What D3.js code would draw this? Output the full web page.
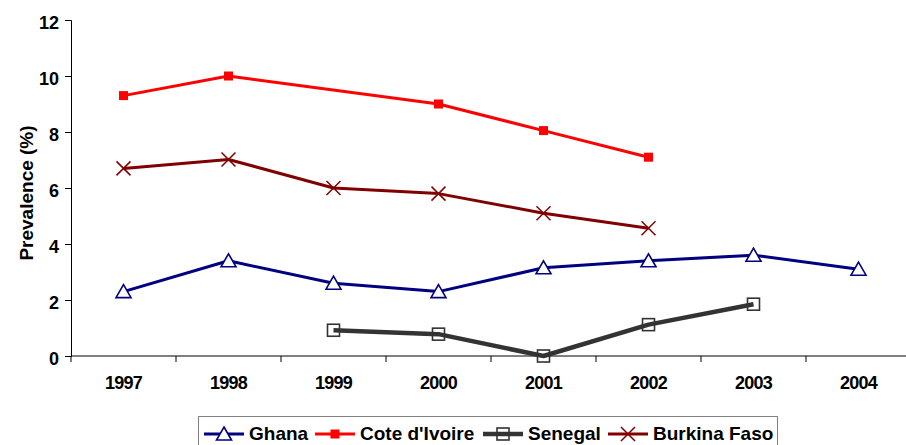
<!DOCTYPE html>
<html>
<head>
<meta charset="utf-8">
<script src="https://cdn.jsdelivr.net/npm/d3@7"></script>
<style>
  html, body { margin: 0; padding: 0; background: #fff; }
  svg { display: block; font-family: "Liberation Sans", Arial, sans-serif; }
</style>
</head>
<body>
<svg id="chart" width="906" height="445"></svg>
<script>
// Years on the category axis
const years = ["1997", "1998", "1999", "2000", "2001", "2002", "2003", "2004"];
const yTicks = [0, 2, 4, 6, 8, 10, 12];

// Prevalence (%) per country; null = no survey that year
const ghana        = [2.3, 3.4, 2.6, 2.3, 3.15, 3.4, 3.6, 3.1];
const coteDIvoire  = [9.3, 10.0, null, 9.0, 8.05, 7.1, null, null];
const senegal      = [null, null, 0.92, 0.78, 0.0, 1.12, 1.85, null];
const burkinaFaso  = [6.7, 7.02, 6.0, 5.8, 5.1, 4.56, null, null];

const series = [
  { name: "Ghana",         values: ghana,       color: "#000080", width: 3,   marker: "triangle" },
  { name: "Cote d'Ivoire", values: coteDIvoire, color: "#FF0000", width: 3,   marker: "square" },
  { name: "Senegal",       values: senegal,     color: "#333333", width: 4.5, marker: "openSquare" },
  { name: "Burkina Faso",  values: burkinaFaso, color: "#800000", width: 3,   marker: "cross" }
];

const svg = d3.select("#chart");
const margin = { left: 71, top: 20, right: 911, bottom: 356 };

const x = d3.scaleBand().domain(years).range([margin.left, margin.right]);
const y = d3.scaleLinear().domain([0, 12]).range([margin.bottom, margin.top]);
const cx = d => x(d) + x.bandwidth() / 2;

// Axes
const yAxis = svg.append("g")
  .attr("transform", `translate(${margin.left},0)`)
  .call(d3.axisLeft(y).tickValues(yTicks).tickSize(6).tickPadding(6));
yAxis.select(".domain").attr("stroke", "#000").attr("stroke-width", 1);
yAxis.selectAll(".tick line").attr("stroke", "#000");
yAxis.selectAll("text").attr("font-size", 18).attr("font-weight", "bold").attr("fill", "#000")
  .attr("font-family", "Liberation Sans, Arial, sans-serif").attr("dy", "0.48em");

const boundaries = years.map(d => x(d)).concat([margin.right]);
const xAxis = svg.append("g").attr("transform", `translate(0,${margin.bottom})`);
xAxis.append("line")
  .attr("x1", margin.left).attr("x2", margin.right)
  .attr("stroke", "#000").attr("stroke-width", 1);
xAxis.selectAll(".tk").data(boundaries).join("line")
  .attr("class", "tk")
  .attr("x1", d => d).attr("x2", d => d)
  .attr("y1", 0).attr("y2", 6)
  .attr("stroke", "#000");
xAxis.selectAll(".lbl").data(years).join("text")
  .attr("class", "lbl")
  .attr("x", d => cx(d)).attr("y", 33)
  .attr("text-anchor", "middle")
  .attr("font-size", 18).attr("font-weight", "bold")
  .attr("letter-spacing", -0.8)
  .text(d => d);

svg.append("text")
  .attr("transform", `translate(33,193) rotate(-90)`)
  .attr("text-anchor", "middle")
  .attr("font-size", 19).attr("font-weight", "bold")
  .text("Prevalence (%)");

// Marker drawing
function drawMarker(g, type, color) {
  if (type === "triangle") {
    g.append("path").attr("d", "M0,-7L7.5,6L-7.5,6Z")
      .attr("fill", "#fff").attr("stroke", color).attr("stroke-width", 1.6);
  } else if (type === "square") {
    g.append("rect").attr("x", -4.5).attr("y", -4.5).attr("width", 9).attr("height", 9)
      .attr("fill", color);
  } else if (type === "openSquare") {
    g.append("rect").attr("x", -6).attr("y", -6).attr("width", 12).attr("height", 12)
      .attr("fill", "none").attr("stroke", color).attr("stroke-width", 1.6);
  } else if (type === "cross") {
    g.append("path").attr("d", "M-7,-7L7,7M-7,7L7,-7")
      .attr("stroke", color).attr("stroke-width", 1.5);
  }
}

const line = d3.line().x(d => cx(d.year)).y(d => y(d.value));

series.forEach(s => {
  const pts = years.map((yr, i) => ({ year: yr, value: s.values[i] })).filter(d => d.value !== null);
  svg.append("path").datum(pts)
    .attr("d", line)
    .attr("fill", "none")
    .attr("stroke", s.color)
    .attr("stroke-width", s.width)
    .attr("stroke-linejoin", "round");
});
series.forEach(s => {
  const pts = years.map((yr, i) => ({ year: yr, value: s.values[i] })).filter(d => d.value !== null);
  pts.forEach(p => {
    const g = svg.append("g").attr("transform", `translate(${cx(p.year)},${y(p.value)})`);
    drawMarker(g, s.marker, s.color);
  });
});

// Legend: one sample line + marker + name per series, in a bordered box
const legend = svg.append("g");
legend.append("rect")
  .attr("x", 198.5).attr("y", 416.5).attr("width", 579).attr("height", 40)
  .attr("fill", "#fff").attr("stroke", "#808080").attr("stroke-width", 1);
const legendX = [204, 315, 483, 608];
series.forEach((s, i) => {
  const lg = legend.append("g").attr("transform", `translate(${legendX[i]},434)`);
  lg.append("line").attr("x1", 0).attr("x2", 40)
    .attr("stroke", s.color).attr("stroke-width", s.width);
  const m = lg.append("g").attr("transform", "translate(20,0)");
  drawMarker(m, s.marker, s.color);
  lg.append("text").attr("x", 45).attr("y", 5.5)
    .attr("font-size", 19).attr("font-weight", "bold")
    .text(s.name);
});
</script>
</body>
</html>
